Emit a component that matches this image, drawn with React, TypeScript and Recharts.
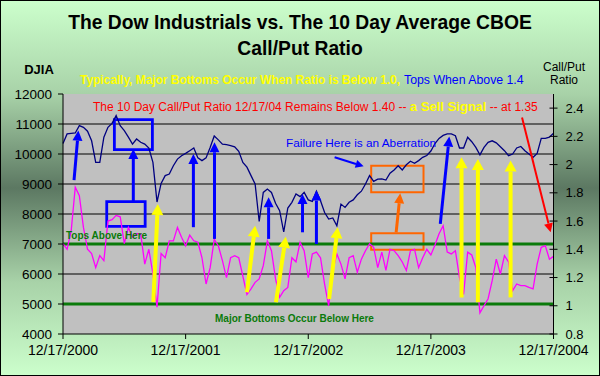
import React from "react";
import {
  ComposedChart,
  Line,
  XAxis,
  YAxis,
  CartesianGrid,
  ReferenceLine,
  ReferenceArea,
} from "recharts";

// x is a sample index, ~12 days apart, 0 = 12/17/2000 and 120 = 12/17/2004
const xTicks = [0, 30, 60, 90, 120];
const xTickLabels = ["12/17/2000", "12/17/2001", "12/17/2002", "12/17/2003", "12/17/2004"];
const djiaTicks = [4000, 5000, 6000, 7000, 8000, 9000, 10000, 11000, 12000];
const ratioTicks = [0.8, 1, 1.2, 1.4, 1.6, 1.8, 2, 2.2, 2.4];

const djia = [
  10350, 10670, 10690, 10700, 10945, 10890, 10760, 10440, 9720, 9720,
  10560, 10890, 11020, 11280, 10945, 10780, 10560, 10330, 10500, 10390,
  10330, 10200, 9720, 8400, 9020, 9280, 9330, 9610, 9830, 9940,
  10020, 10110, 10200, 9870, 9780, 9870, 10220, 10600, 10470, 10330,
  10310, 10280, 10240, 10090, 9720, 9560, 9280, 9000, 7750, 8720,
  8830, 8720, 8360, 8110, 7400, 8200, 8390, 8670, 8580, 8720,
  8470, 8420, 8760, 8440, 8050, 7830, 7870, 7610, 8330, 8220,
  8390, 8470, 8640, 8760, 9000, 9280, 9090, 9160, 9170, 9130,
  9360, 9470, 9610, 9470, 9640, 9760, 9690, 9780, 9890, 9950,
  10100, 10350, 10520, 10620, 10670, 10670, 10610, 10200, 10200, 10560,
  10410, 10220, 9970, 10220, 10390, 10440, 10370, 10240, 10110, 9945,
  10000, 10200, 10250, 10110, 10000, 9890, 10020, 10520, 10520, 10560,
  10690,
];

const callPut = [
  1.44, 1.4, 1.53, 1.84, 1.78, 1.555, 1.4, 1.37, 1.27, 1.355,
  1.32, 1.6, 1.61, 1.64, 1.63, 1.44, 1.555, 1.485, 1.51, 1.51,
  1.295, 1.4, 1.225, 0.99, 1.37, 1.34, 1.46, 1.46, 1.555, 1.485,
  1.425, 1.5, 1.46, 1.45, 1.34, 1.154, 1.27, 1.47, 1.425, 1.32,
  1.2, 1.34, 1.355, 1.34, 1.21, 1.08, 1.12, 1.166, 1.19, 1.284,
  1.46, 1.39, 1.19, 1.06, 1.107, 1.13, 1.34, 1.31, 1.45, 1.39,
  1.2, 1.367, 1.38, 1.34, 1.154, 1.0, 1.25, 1.367, 1.295, 1.19,
  1.34, 1.355, 1.237, 1.33, 1.39, 1.44, 1.414, 1.27, 1.38, 1.25,
  1.4, 1.39, 1.355, 1.31, 1.25, 1.39, 1.4, 1.27, 1.34, 1.4,
  1.36, 1.43, 1.51, 1.567, 1.38, 1.367, 1.39, 1.2, 1.08, 1.38,
  1.36, 1.27, 0.95, 1.0, 1.05, 1.178, 1.33, 1.225, 1.355, 1.31,
  1.107, 1.154, 1.142, 1.142, 1.13, 1.12, 1.295, 1.414, 1.425, 1.33,
  1.35,
];

// annotations, in chart units (index, DJIA axis)
const blueArrows = [
  [2.7, 9130, 3.75, 10780],
  [17.2, 8390, 17.2, 10170],
  [31.9, 7560, 31.9, 10000],
  [37.06, 7170, 37.06, 10390],
  [50.3, 7170, 50.3, 8560],
  [58.6, 7390, 58.6, 8670],
  [62.0, 7000, 62.0, 8780],
  [92.3, 7670, 94.5, 10580],
];
const yellowArrows = [
  [22.1, 5060, 23.2, 8330],
  [45.0, 5390, 47.0, 7610],
  [52.1, 5060, 54.5, 7240],
  [65.1, 5170, 67.2, 7560],
  [97.5, 5220, 97.5, 9890],
  [101.5, 5060, 101.5, 9830],
  [109.5, 5220, 109.5, 9780],
];
const blueBoxes = [
  [12.57, 21.87, 10143, 11143],
  [10.7, 20.1, 7590, 8410],
];
const orangeBoxes = [
  [75.4, 88.2, 8723, 9611],
  [75.4, 88.2, 6810, 7357],
];
const orangeArrow = [81.5, 7390, 82.5, 8690];
const failureArrow = [66.45, 9890, 73.55, 9590];
const redArrow = [112.3, 11220, 119.3, 7390];

const chartData = djia.map((v, i) => ({ i, djia: v, ratio: callPut[i] }));

const FONT = "Arial, 'Liberation Sans', sans-serif";

const arrowShape = (color: string, width: number, len: number, half: number) =>
  (p: any) => {
    const { x1, y1, x2, y2 } = p;
    if ([x1, y1, x2, y2].some((n) => typeof n !== "number" || isNaN(n))) return <g />;
    const a = Math.atan2(y2 - y1, x2 - x1);
    const bx = x2 - len * Math.cos(a);
    const by = y2 - len * Math.sin(a);
    const nx = -Math.sin(a) * half;
    const ny = Math.cos(a) * half;
    return (
      <g>
        <line x1={x1} y1={y1} x2={bx} y2={by} stroke={color} strokeWidth={width} />
        <polygon
          points={`${x2},${y2} ${bx + nx},${by + ny} ${bx - nx},${by - ny}`}
          fill={color}
        />
      </g>
    );
  };

const seg = (a: number[]) => [
  { x: a[0], y: a[1] },
  { x: a[2], y: a[3] },
];

// right axis ticks cross the axis line, as in the original
const RatioTick = (props: any) => {
  const { x, y, payload } = props;
  const ax = x - 12;
  const v = payload.value;
  const label = Number.isInteger(v) ? String(v) : String(Math.round(v * 10) / 10);
  return (
    <g>
      <line x1={ax - 4} x2={ax + 4} y1={y} y2={y} stroke="#000" />
      <text x={x} y={y} dy="0.355em" textAnchor="start" fontSize={13} fontFamily={FONT} fill="#000">
        {label}
      </text>
    </g>
  );
};

export default function App() {
  return (
    <div
      style={{
        position: "absolute",
        left: 0,
        top: 0,
        width: 600,
        height: 376,
        background:
          "linear-gradient(to bottom, #ccffcc 0%, #a8d2a8 25%, #5c7862 50%, #a8d2a8 75%, #ccffcc 100%)",
        fontFamily: FONT,
      }}
    >
      <ComposedChart
        width={600}
        height={376}
        data={chartData}
        margin={{ top: 94, right: 0, left: 0, bottom: 12 }}
      >
        <CartesianGrid
          yAxisId="left"
          vertical={false}
          horizontalValues={[5000, 6000, 7000, 8000, 9000, 10000, 11000]}
          stroke="#000"
          strokeDasharray=""
          fill="#c0c0c0"
          fillOpacity={1}
        />
        <XAxis
          dataKey="i"
          type="number"
          domain={[0, 120]}
          ticks={xTicks}
          interval={0}
          tickFormatter={(v: number) => xTickLabels[xTicks.indexOf(v)]}
          stroke="#000"
          tickSize={5}
          tickMargin={6}
          height={30}
          tick={{ fill: "#000", fontSize: 14, fontFamily: FONT }}
        />
        <YAxis
          yAxisId="left"
          domain={[4000, 12000]}
          ticks={djiaTicks}
          interval={0}
          width={63}
          stroke="#000"
          tickSize={5}
          tickMargin={6}
          tick={{ fill: "#000", fontSize: 13.5, fontFamily: FONT }}
        />
        <YAxis
          yAxisId="right"
          orientation="right"
          domain={[0.8, 2.5]}
          allowDataOverflow
          ticks={ratioTicks}
          interval={0}
          width={46.5}
          stroke="#000"
          tickSize={4}
          tickMargin={8}
          tickLine={false}
          tick={<RatioTick />}
        />
        <ReferenceLine yAxisId="left" y={7000} stroke="#0a7a0a" strokeWidth={3} />
        <ReferenceLine yAxisId="left" y={5000} stroke="#0a7a0a" strokeWidth={3} />
        <Line
          yAxisId="left"
          dataKey="djia"
          stroke="#000080"
          strokeWidth={1.3}
          dot={false}
          type="linear"
          isAnimationActive={false}
        />
        <Line
          yAxisId="right"
          dataKey="ratio"
          stroke="#ff00ff"
          strokeWidth={1.3}
          dot={false}
          type="linear"
          isAnimationActive={false}
        />
        {blueBoxes.map((b, k) => (
          <ReferenceArea
            key={"bb" + k}
            yAxisId="left"
            x1={b[0]}
            x2={b[1]}
            y1={b[2]}
            y2={b[3]}
            fill="none"
            fillOpacity={0}
            stroke="#0000ff"
            strokeWidth={2.8}
          />
        ))}
        {orangeBoxes.map((b, k) => (
          <ReferenceArea
            key={"ob" + k}
            yAxisId="left"
            x1={b[0]}
            x2={b[1]}
            y1={b[2]}
            y2={b[3]}
            fill="none"
            fillOpacity={0}
            stroke="#ff6600"
            strokeWidth={2}
          />
        ))}
        {blueArrows.map((a, k) => (
          <ReferenceLine
            key={"ba" + k}
            yAxisId="left"
            segment={seg(a)}
            shape={arrowShape("#0000ff", 3, 10, 5)}
          />
        ))}
        {yellowArrows.map((a, k) => (
          <ReferenceLine
            key={"ya" + k}
            yAxisId="left"
            segment={seg(a)}
            shape={arrowShape("#ffff00", 4, 11, 6)}
          />
        ))}
        <ReferenceLine yAxisId="left" segment={seg(orangeArrow)} shape={arrowShape("#ff6600", 3, 10, 5)} />
        <ReferenceLine yAxisId="left" segment={seg(failureArrow)} shape={arrowShape("#0000ff", 2, 8, 4)} />
        <ReferenceLine yAxisId="left" segment={seg(redArrow)} shape={arrowShape("#ff0000", 2, 9, 4.5)} />
      </ComposedChart>

      <svg
        width={600}
        height={376}
        style={{ position: "absolute", left: 0, top: 0, pointerEvents: "none" }}
        fontFamily={FONT}
      >
        <text x={300} y={29} textAnchor="middle" fontSize={19.3} fontWeight="bold" fill="#000">
          The Dow Industrials vs. The 10 Day Average CBOE
        </text>
        <text x={300} y={55} textAnchor="middle" fontSize={19.3} fontWeight="bold" fill="#000">
          Call/Put Ratio
        </text>
        <text x={39} y={74} textAnchor="middle" fontSize={13} fontWeight="bold" fill="#000">
          DJIA
        </text>
        <text x={564} y={71} textAnchor="middle" fontSize={12} fill="#000">
          Call/Put
        </text>
        <text x={564} y={84} textAnchor="middle" fontSize={12} fill="#000">
          Ratio
        </text>
        <text x={80} y={84} fontSize={11.9} fill="#ffff00" fontWeight="bold">
          Typically, Major Bottoms Occur When Ratio is Below 1.0,
        </text>
        <text x={404} y={84} fontSize={12.3} fill="#0000ff">
          Tops When Above 1.4
        </text>
        <text x={93} y={111} fontSize={12} fill="#ff0000">
          The 10 Day Call/Put Ratio 12/17/04 Remains Below 1.40 --{" "}
          <tspan fill="#ffff00" fontWeight="bold" fontSize={13}>
            a Sell Signal
          </tspan>
          <tspan> -- at 1.35</tspan>
        </text>
        <text x={286} y={147} fontSize={11.8} fill="#0000ff">
          Failure Here is an Aberration
        </text>
        <text x={66} y={238.5} fontSize={10} fontWeight="bold" fill="#0a7a0a">
          Tops Above Here
        </text>
        <text x={215} y={321.5} fontSize={10} fontWeight="bold" fill="#0a7a0a">
          Major Bottoms Occur Below Here
        </text>
      </svg>
      <div
        style={{
          position: "absolute",
          left: 0,
          top: 0,
          width: 600,
          height: 376,
          boxSizing: "border-box",
          border: "1px solid #000",
          pointerEvents: "none",
        }}
      />
    </div>
  );
}
